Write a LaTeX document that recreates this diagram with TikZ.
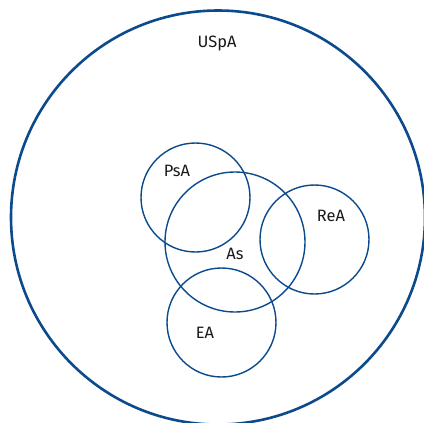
\documentclass[tikz,border=0pt]{standalone}
\usepackage{fontspec}
\setmainfont{Fira Sans}
\definecolor{setblue}{HTML}{0B4A8C}
\tikzset{
  setring/.style={draw=setblue, line width=1.4bp},
  setlabel/.style={font=\fontsize{16.5}{18}\selectfont, text=black!90, inner sep=0pt}
}
\begin{document}
\begin{tikzpicture}[x=1bp,y=-1bp]
  \useasboundingbox (0,0) rectangle (424,423);
  % outer set
  \draw[setblue, line width=2.6bp] (218,217.5) circle (207);
  \node[setlabel] (uspa) at (217,43) {USpA};
  % inner sets
  \draw[setring] (195.5,197.5) circle (54.5);
  \draw[setring] (235,242) circle (70);
  \draw[setring] (314.5,239.5) circle (54.5);
  \draw[setring] (221.5,322.5) circle (54.5);
  \node[setlabel] (psa) at (177,171) {PsA};
  \node[setlabel] (as) at (235,254) {As};
  \node[setlabel] (rea) at (331,216) {ReA};
  \node[setlabel] (ea) at (205,333) {EA};
\end{tikzpicture}
\end{document}
